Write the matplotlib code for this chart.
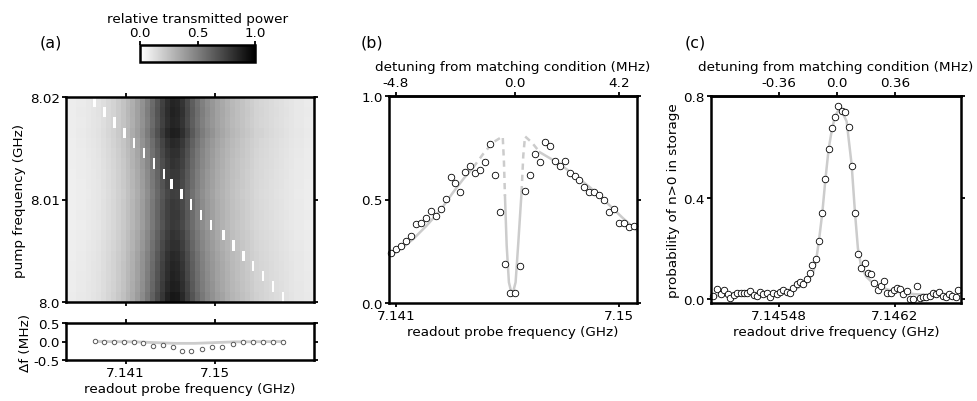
import numpy as np
import matplotlib
matplotlib.use('Agg')
import matplotlib.pyplot as plt

plt.rcParams['font.family'] = ['DejaVu Sans']
plt.rcParams['axes.unicode_minus'] = False
FS = 9.7
plt.rcParams['font.size'] = FS

# ---------------- panel (a) data ----------------
# transmitted power profile across the probe frequency (0.5 MHz columns, 7.135 -> 7.160 GHz)
profile_a = [0.07, 0.07, 0.08, 0.08, 0.09, 0.10, 0.11, 0.13, 0.15, 0.17,
             0.20, 0.23, 0.27, 0.31, 0.36, 0.42, 0.49, 0.57, 0.65, 0.73,
             0.80, 0.84, 0.83, 0.78, 0.70, 0.62, 0.55, 0.49, 0.44, 0.40,
             0.36, 0.33, 0.30, 0.27, 0.25, 0.23, 0.21, 0.19, 0.17, 0.16,
             0.15, 0.14, 0.13, 0.12, 0.11, 0.10, 0.09, 0.09, 0.08, 0.08]
# relative darkness of each pump row (top -> bottom)
row_factor = [1.02, 1.03, 1.02, 1.05, 1.0, 0.97, 0.95, 0.93, 0.92, 0.90,
              0.92, 0.93, 0.92, 0.95, 0.97, 1.0, 1.02, 1.03, 1.05, 1.08]
# pump frequencies of the rows (top -> bottom), GHz
pump_freq = [8.0195, 8.0185, 8.0175, 8.0165, 8.0155, 8.0145, 8.0135, 8.0125,
             8.0115, 8.0105, 8.0095, 8.0085, 8.0075, 8.0065, 8.0055, 8.0045,
             8.0035, 8.0025, 8.0015, 8.0005]
# dip (readout) frequency for each pump row (top -> bottom), GHz
dip_freq = [7.13791, 7.13888, 7.13982, 7.14083, 7.14184, 7.14278, 7.14379,
            7.14480, 7.14574, 7.14671, 7.14765, 7.14873, 7.14974, 7.15075,
            7.15181, 7.15282, 7.15387, 7.15488, 7.15585, 7.15689]
# frequency shift of the dip, MHz
dip_shift = [0.009, 0.0, -0.018, -0.018, -0.018, -0.045, -0.116, -0.098,
             -0.161, -0.259, -0.259, -0.205, -0.152, -0.161, -0.080, -0.027,
             -0.027, -0.027, -0.027, -0.009]
shift_fit_x = [7.1379, 7.1420, 7.1440, 7.1460, 7.1480, 7.1500, 7.1520, 7.1569]
shift_fit_y = [0.0, -0.01, -0.03, -0.05, -0.05, -0.03, -0.01, 0.0]

# ---------------- panel (b) data ----------------
probe_b = [7.14079, 7.14100, 7.14120, 7.14140, 7.14159, 7.14181, 7.14201, 7.14220,
           7.14240, 7.14260, 7.14280, 7.14301, 7.14321, 7.14339, 7.14360, 7.14380,
           7.14400, 7.14420, 7.14440, 7.14460, 7.14481, 7.14500, 7.14520, 7.14540,
           7.14560, 7.14580, 7.14601, 7.14621, 7.14641, 7.14660, 7.14680, 7.14700,
           7.14720, 7.14741, 7.14761, 7.14781, 7.14801, 7.14821, 7.14840, 7.14860,
           7.14879, 7.14900, 7.14921, 7.14941, 7.14961, 7.14981, 7.15001, 7.15021,
           7.15040, 7.15061]
trans_b = [0.242, 0.261, 0.277, 0.301, 0.325, 0.382, 0.385, 0.411, 0.446, 0.419,
           0.454, 0.502, 0.607, 0.580, 0.538, 0.631, 0.663, 0.626, 0.644, 0.680,
           0.768, 0.620, 0.441, 0.190, 0.048, 0.047, 0.179, 0.543, 0.618, 0.720,
           0.681, 0.776, 0.757, 0.688, 0.663, 0.684, 0.626, 0.615, 0.596, 0.559,
           0.535, 0.538, 0.523, 0.499, 0.438, 0.453, 0.385, 0.385, 0.369, 0.370]
fit_b_x = [7.14069, 7.14116, 7.14170, 7.14224, 7.14278, 7.14331, 7.14372, 7.14412,
           7.14452, 7.14492, 7.14531, 7.14536, 7.14540, 7.14547, 7.14556, 7.14569,
           7.14583, 7.14594, 7.14607, 7.14614, 7.14621, 7.14648, 7.14681, 7.14749,
           7.14816, 7.14883, 7.14950, 7.15017, 7.15073]
fit_b_y = [0.221, 0.258, 0.309, 0.374, 0.446, 0.535, 0.599, 0.655,
           0.720, 0.776, 0.805, 0.680, 0.518, 0.277, 0.100, 0.035,
           0.100, 0.293, 0.535, 0.712, 0.805, 0.776, 0.728, 0.680,
           0.623, 0.559, 0.486, 0.409, 0.350]
# segment style after each point: True = dashed (interpolated region)
fit_b_dashed = [False, False, False, False, False, False, False, True,
                True, True, True, True, False, False, False, False,
                False, False, True, True, True, True, False, False,
                False, False, False, False, False]
match_b = 7.1458

# ---------------- panel (c) data ----------------
drive_c = [7.145072, 7.145097, 7.145120, 7.145141, 7.145161, 7.145178, 7.145199, 7.145221,
           7.145242, 7.145263, 7.145283, 7.145302, 7.145323, 7.145343, 7.145362, 7.145383,
           7.145403, 7.145424, 7.145445, 7.145466, 7.145486, 7.145507, 7.145528, 7.145548,
           7.145569, 7.145590, 7.145610, 7.145631, 7.145652, 7.145670, 7.145687, 7.145708,
           7.145728, 7.145749, 7.145768, 7.145788, 7.145809, 7.145828, 7.145848, 7.145869,
           7.145892, 7.145912, 7.145931, 7.145952, 7.145970, 7.145991, 7.146012, 7.146030,
           7.146051, 7.146072, 7.146092, 7.146111, 7.146132, 7.146152, 7.146173, 7.146192,
           7.146212, 7.146233, 7.146252, 7.146272, 7.146293, 7.146314, 7.146334, 7.146353,
           7.146374, 7.146394, 7.146415, 7.146434, 7.146454, 7.146475, 7.146496, 7.146517,
           7.146535, 7.146556, 7.146577, 7.146593]
prob_c = [0.011, 0.039, 0.022, 0.037, 0.020, 0.004, 0.016, 0.024,
          0.026, 0.026, 0.024, 0.033, 0.016, 0.011, 0.030, 0.020,
          0.026, 0.007, 0.026, 0.022, 0.029, 0.035, 0.030, 0.026,
          0.046, 0.058, 0.066, 0.059, 0.079, 0.102, 0.135, 0.158,
          0.230, 0.339, 0.472, 0.591, 0.673, 0.717, 0.762, 0.740,
          0.738, 0.677, 0.524, 0.338, 0.177, 0.121, 0.142, 0.102,
          0.099, 0.063, 0.038, 0.050, 0.071, 0.026, 0.024, 0.037,
          0.045, 0.042, 0.022, 0.033, 0.000, -0.001, 0.050, 0.004,
          0.007, 0.009, 0.013, 0.026, 0.022, 0.029, 0.011, 0.009,
          0.020, 0.013, 0.007, 0.035]
fit_c_x = [7.14506, 7.14525, 7.14540, 7.14552, 7.14560, 7.14565, 7.14569, 7.14571,
           7.145728, 7.145749, 7.145768, 7.145788, 7.145809, 7.145828, 7.14585,
           7.14587, 7.14590, 7.145931, 7.145952, 7.14597, 7.14599, 7.14602,
           7.14606, 7.14612, 7.14620, 7.14632, 7.14645, 7.14661]
fit_c_y = [0.012, 0.015, 0.020, 0.030, 0.045, 0.065, 0.10, 0.15,
           0.23, 0.34, 0.47, 0.59, 0.67, 0.72, 0.745,
           0.74, 0.70, 0.53, 0.34, 0.20, 0.13, 0.09,
           0.065, 0.045, 0.030, 0.020, 0.015, 0.012]
match_c = 7.14584

# ---------------- figure ----------------
W, H = 977, 402
fig = plt.figure(figsize=(W / 100, H / 100), dpi=100)


def box(x0, y0, x1, y1):
    return [x0 / W, 1 - y1 / H, (x1 - x0) / W, (y1 - y0) / H]


SPW = 1.8
GRAY = '0.8'


def style(ax, top=True, right=True):
    for s in ax.spines.values():
        s.set_linewidth(SPW)
    ax.tick_params(direction='out', length=3, width=1.3, labelsize=FS,
                   top=top, right=right, pad=1.5)


# ---- (a) heatmap ----
ax_a = fig.add_axes(box(66, 98, 314, 303))
cols = np.repeat(np.array(profile_a), 2)          # 0.25 MHz columns
Z = np.clip(np.outer(row_factor, cols), 0, 1)
x_lo, x_hi = 7.135, 7.160
ncol = Z.shape[1]
for r, f in enumerate(dip_freq):
    c = int((f - x_lo) / (x_hi - x_lo) * ncol)
    if 0 <= c < ncol:
        Z[r, c] = 0.0
im = ax_a.imshow(Z, cmap='gray_r', vmin=0, vmax=1, aspect='auto',
                 interpolation='nearest', origin='upper',
                 extent=(x_lo, x_hi, pump_freq[-1] - 0.0005, pump_freq[0] + 0.0005))
ax_a.set_xlim(x_lo, x_hi)
ax_a.set_ylim(8.0, 8.02)
ax_a.set_xticks([7.141, 7.15])
ax_a.set_xticklabels([])
ax_a.set_yticks([8.0, 8.01, 8.02], ['8.0', '8.01', '8.02'])
ax_a.set_ylabel('pump frequency (GHz)', labelpad=3)
style(ax_a)

# ---- (a) shift panel ----
ax_s = fig.add_axes(box(66, 324, 314, 361))
ax_s.plot(shift_fit_x, shift_fit_y, color=GRAY, lw=2, zorder=1)
ax_s.plot(dip_freq, dip_shift, 'o', ms=3.2, mfc='white', mec='0.35', mew=0.7, zorder=2)
ax_s.set_xlim(x_lo, x_hi)
ax_s.set_ylim(-0.5, 0.5)
ax_s.set_xticks([7.141, 7.15], ['7.141', '7.15'])
ax_s.set_yticks([0.5, 0.0, -0.5], ['0.5', '0.0', '-0.5'])
ax_s.set_xlabel('readout probe frequency (GHz)', labelpad=2)
ax_s.set_ylabel('Δf (MHz)', labelpad=1)
style(ax_s)

# ---- colorbar ----
cax = fig.add_axes(box(140, 46, 255, 63))
cb = fig.colorbar(im, cax=cax, orientation='horizontal', ticks=[0, 0.5, 1.0])
cb.outline.set_linewidth(SPW)
cax.xaxis.set_ticks_position('top')
cax.xaxis.set_label_position('top')
cax.set_xticklabels(['0.0', '0.5', '1.0'])
cax.tick_params(direction='out', length=3, width=1.3, labelsize=FS, pad=1)
cax.set_xlabel('relative transmitted power', labelpad=3)

# ---- (b) ----
ax_b = fig.add_axes(box(389, 97, 637, 304))
start = 0
for i in range(1, len(fit_b_x)):
    if i == len(fit_b_x) - 1 or fit_b_dashed[i] != fit_b_dashed[start]:
        ls = (0, (2.5, 2)) if fit_b_dashed[start] else '-'
        ax_b.plot(fit_b_x[start:i + 1], fit_b_y[start:i + 1], color=GRAY, lw=1.8,
                  ls=ls, zorder=1)
        start = i
ax_b.plot(probe_b, trans_b, 'o', ms=4.7, mfc='white', mec='black', mew=0.6, zorder=2,
          clip_on=False)
ax_b.set_xlim(7.14072, 7.15073)
ax_b.set_ylim(0, 1.0)
ax_b.set_xticks([7.141, 7.15], ['7.141', '7.15'])
ax_b.set_yticks([0.0, 0.5, 1.0], ['0.0', '0.5', '1.0'])
ax_b.set_xlabel('readout probe frequency (GHz)', labelpad=2)
style(ax_b, top=False)
sec_b = ax_b.secondary_xaxis('top', functions=(lambda f: (f - match_b) * 1000,
                                               lambda d: match_b + d / 1000))
sec_b.set_xticks([-4.8, 0.0, 4.2], ['-4.8', '0.0', '4.2'])
sec_b.set_xlabel('detuning from matching condition (MHz)', labelpad=4)
sec_b.tick_params(direction='out', length=3, width=1.3, labelsize=FS, pad=2)
sec_b.spines['top'].set_linewidth(SPW)

# ---- (c) ----
ax_c = fig.add_axes(box(711, 97, 961, 304))
ax_c.plot(fit_c_x, fit_c_y, color=GRAY, lw=1.8, zorder=1)
ax_c.plot(drive_c, prob_c, 'o', ms=4.7, mfc='white', mec='black', mew=0.6, zorder=2,
          clip_on=False)
ax_c.set_xlim(7.145058, 7.14661)
ax_c.set_ylim(-0.015, 0.8)
ax_c.set_xticks([7.14548, 7.1462], ['7.14548', '7.1462'])
ax_c.set_yticks([0.0, 0.4, 0.8], ['0.0', '0.4', '0.8'])
ax_c.set_xlabel('readout drive frequency (GHz)', labelpad=2)
ax_c.set_ylabel('probability of n>0 in storage', labelpad=2)
style(ax_c, top=False)
sec_c = ax_c.secondary_xaxis('top', functions=(lambda f: (f - match_c) * 1000,
                                               lambda d: match_c + d / 1000))
sec_c.set_xticks([-0.36, 0.0, 0.36], ['-0.36', '0.0', '0.36'])
sec_c.set_xlabel('detuning from matching condition (MHz)', labelpad=4)
sec_c.tick_params(direction='out', length=3, width=1.3, labelsize=FS, pad=2)
sec_c.spines['top'].set_linewidth(SPW)

# panel letters
LFS = 11.4
fig.text(51 / W, 1 - 43 / H, '(a)', ha='center', va='center', fontsize=LFS)
fig.text(372 / W, 1 - 43 / H, '(b)', ha='center', va='center', fontsize=LFS)
fig.text(695 / W, 1 - 43 / H, '(c)', ha='center', va='center', fontsize=LFS)

fig.savefig('out.png', dpi=100)
